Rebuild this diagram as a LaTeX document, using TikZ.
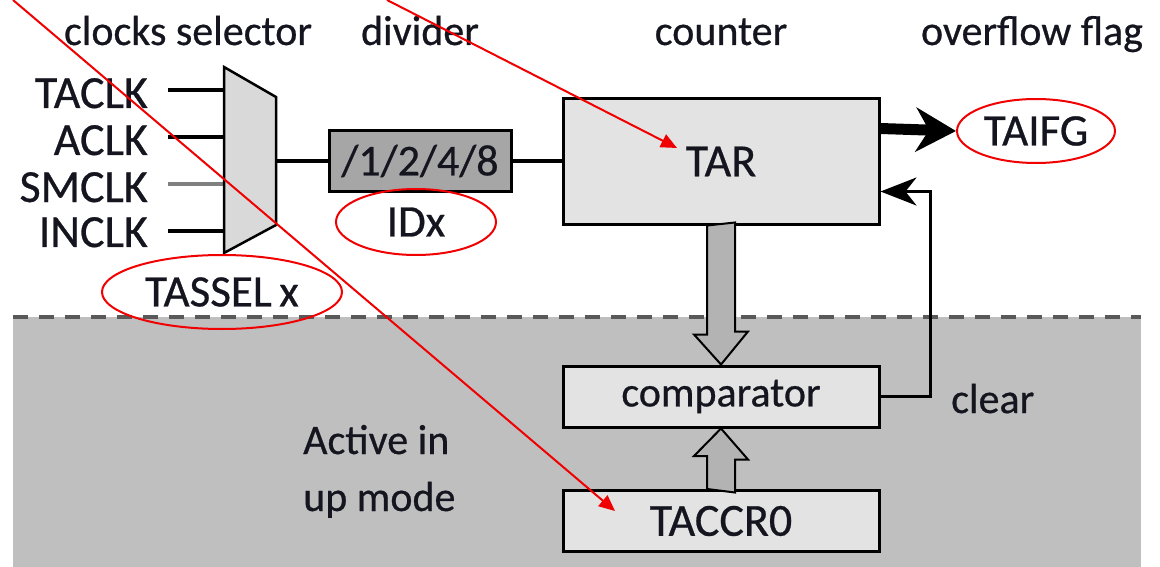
\documentclass[tikz,border=0pt]{standalone}
\usepackage{fontspec}
\setmainfont{Carlito}[FakeBold=0.6]
\usetikzlibrary{arrows.meta,shapes.geometric,calc}
\definecolor{zone}{HTML}{BFBFBF}
\definecolor{zoneedge}{HTML}{595959}
\definecolor{boxfill}{HTML}{E3E3E3}
\definecolor{muxfill}{HTML}{D9D9D9}
\definecolor{divfill}{HTML}{A6A6A6}
\definecolor{busfill}{HTML}{B3B3B3}
\definecolor{note}{HTML}{F00000}
\definecolor{ink}{HTML}{15151F}
\begin{document}
\begin{tikzpicture}[x=1pt,y=-1pt,
  head/.style={inner sep=0pt, anchor=base, text=ink, font=\fontsize{42}{46}\selectfont},
  sig/.style={inner sep=0pt, anchor=base east, text=ink, font=\fontsize{46}{50}\selectfont},
  block/.style={draw=black, line width=3pt, fill=boxfill, inner sep=0pt, text=ink,
    minimum width=316pt, minimum height=61pt, font=\fontsize{46}{50}\selectfont},
  smallblock/.style={block, font=\fontsize{42}{46}\selectfont},
  ring/.style={draw=note, line width=2pt, ellipse, inner sep=0pt, text=ink,
    font=\fontsize{45}{50}\selectfont},
  wire/.style={line width=4.5pt, draw=black},
  bus/.style={draw=black, line width=2pt, fill=busfill, line join=miter},
  notearrow/.style={draw=note, line width=2pt, -{Triangle[length=16pt,width=14pt]}}]
\useasboundingbox (0,0) rectangle (1160,567);

% region active only in up mode
\fill[zone] (13,317) rectangle (1141,567);
\draw[zoneedge, line width=4pt, dash pattern=on 15pt off 11pt] (13,317) -- (1141,317);
\node[inner sep=0pt, anchor=base west, text=ink, align=left,
  font=\fontsize{42}{57}\selectfont] (mode) at (303,511) {Active in\\up mode};

% column headings
\node[head] (hsel) at (188,45) {clocks selector};
\node[head] (hdiv) at (420,45) {divider};
\node[head] (hcnt) at (721,45) {counter};
\node[head] (hflg) at (1032,45) {overflow flag};

% clock inputs
\node[sig] (taclk) at (148,108) {TACLK};
\node[sig] (aclk)  at (148,155) {ACLK};
\node[sig] (smclk) at (148,202) {SMCLK};
\node[sig] (inclk) at (148,247) {INCLK};

% multiplexer
\coordinate (mtl) at (224,67);
\coordinate (mtr) at (276,97);
\coordinate (mbr) at (276,225);
\coordinate (mbl) at (224,253);
\coordinate (mout) at (276,161);
\coordinate (in1) at (224,90);
\coordinate (in2) at (224,137);
\coordinate (in3) at (224,184);
\coordinate (in4) at (224,231);
\draw[line width=4.5pt] ([xshift=20pt]taclk.east |- in1) -- (in1);
\draw[line width=3.5pt] ([xshift=20pt]taclk.east |- in2) -- (in2);
\draw[line width=4.5pt, draw=gray] ([xshift=20pt]taclk.east |- in3) -- (in3);
\draw[line width=3.5pt] ([xshift=20pt]taclk.east |- in4) -- (in4);
\filldraw[fill=muxfill, draw=black, line width=2.5pt, line join=miter]
  (mtl) -- (mtr) -- (mbr) -- (mbl) -- cycle;
\node[ring, minimum width=240pt, minimum height=74pt] (tassel) at (222,292) {TASSEL\,x};

% divider
\node[block, fill=divfill, minimum width=182pt, minimum height=61pt,
  font=\fontsize{44}{48}\selectfont] (div) at (420,161) {/1/2/4/8};
\node[ring, minimum width=160pt, minimum height=66pt] (idx) at (416,222) {IDx};

% counter, comparator and compare register
\node[block, minimum height=125pt] (tar) at (721,161.5) {TAR};
\node[smallblock] (comp) at (721,396.5) {comparator};
\node[block] (tacc) at (721,521) {TACCR0};
\node[inner sep=0pt, anchor=base west, text=ink, font=\fontsize{42}{46}\selectfont]
  (clear) at (951,413) {clear};

% overflow flag
\node[ring, minimum width=158pt, minimum height=64pt] (taifg) at (1036,131) {TAIFG};

% wiring
\draw[wire] (mout) -- (div.west |- mout);
\draw[wire] (div.east) -- (tar.west |- div.east);
\draw[line width=11pt, -{Stealth[length=40pt,width=44pt,inset=13pt]}]
  ([yshift=-31pt]tar.north east) -- (taifg.west);
\draw[line width=2.5pt, -{Stealth[length=36pt,width=28pt,inset=11pt]}]
  (comp.east) -- ++(50,0) |- ([yshift=34pt]tar.south east);

% data paths between counter, comparator and register
\draw[bus] ([xshift=-14pt]tar.south) -- ++(0,109) -- ++(-13,0) -- (comp.north)
  -- ++(27,-33) -- ++(-13,0) -- ++(0,-109) -- cycle;
\draw[bus] ([xshift=-14pt]tacc.north) -- ++(0,-33) -- ++(-13,0) -- (comp.south)
  -- ++(27,31) -- ++(-13,0) -- ++(0,33) -- cycle;

% red annotation pointers
\coordinate (srcA) at (13,0);
\coordinate (dstA) at (615,511);
\coordinate (srcB) at (387,0);
\coordinate (dstB) at (677,148);
\draw[notearrow] (srcA) -- (dstA);
\draw[notearrow] (srcB) -- (dstB);
\end{tikzpicture}
\end{document}
